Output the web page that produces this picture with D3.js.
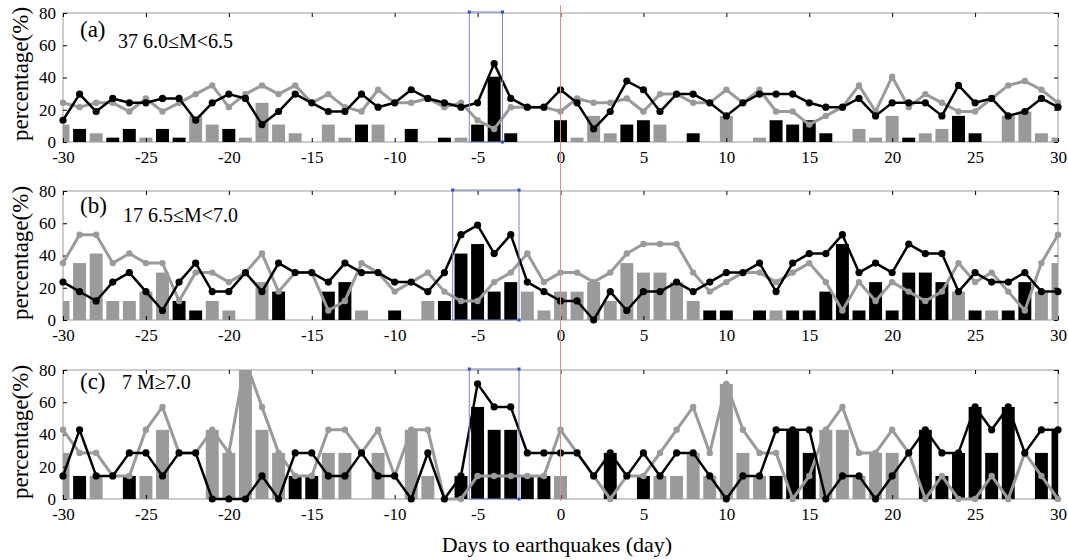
<!DOCTYPE html>
<html>
<head>
<meta charset="utf-8">
<script src="https://cdn.jsdelivr.net/npm/d3@7/dist/d3.min.js"></script>
<style>
body { margin: 0; background: #fff; }
text { font-family: "Liberation Serif", "Times New Roman", serif; fill: #000; }
</style>
</head>
<body>
<script>
// days relative to the earthquake
var days = [-30,-29,-28,-27,-26,-25,-24,-23,-22,-21,-20,-19,-18,-17,-16,-15,-14,-13,-12,-11,-10,
            -9,-8,-7,-6,-5,-4,-3,-2,-1,0,1,2,3,4,5,6,7,8,9,10,
            11,12,13,14,15,16,17,18,19,20,21,22,23,24,25,26,27,28,29,30];
var xTicks = [-30,-25,-20,-15,-10,-5,0,5,10,15,20,25,30];
var yTicks = [0,20,40,60,80];

// (a) 37 events, 6.0<=M<6.5  (percent)
var blackLineA = [13.5,29.7,18.9,27.0,24.3,24.3,27.0,27.0,13.5,24.3,29.7,27.0,10.8,18.9,29.7,24.3,18.9,18.9,29.7,21.6,24.3,
                  32.4,27.0,24.3,21.6,24.3,48.6,27.0,21.6,21.6,32.4,24.3,8.1,18.9,37.8,32.4,18.9,29.7,29.7,24.3,16.2,
                  24.3,29.7,29.7,29.7,24.3,21.6,21.6,27.0,16.2,24.3,24.3,24.3,16.2,35.1,24.3,27.0,16.2,18.9,27.0,21.6];
var grayLineA  = [24.3,21.6,24.3,24.3,18.9,27.0,18.9,24.3,29.7,35.1,21.6,29.7,35.1,29.7,35.1,24.3,29.7,21.6,18.9,32.4,24.3,
                  24.3,27.0,21.6,24.3,13.5,8.1,21.6,21.6,21.6,18.9,27.0,24.3,24.3,27.0,18.9,29.7,29.7,24.3,24.3,32.4,
                  24.3,32.4,18.9,18.9,10.8,16.2,21.6,35.1,18.9,40.5,21.6,29.7,24.3,18.9,18.9,27.0,35.1,37.8,32.4,24.3];
var blackBarsA = [0,8.1,0,2.7,8.1,0,8.1,2.7,0,0,8.1,0,0,0,0,0,0,0,10.8,0,0,
                  8.1,0,2.7,0,10.8,40.5,5.4,0,0,13.5,0,0,0,10.8,13.5,0,0,5.4,0,0,
                  0,0,13.5,10.8,13.5,5.4,0,0,0,0,2.7,0,0,16.2,5.4,0,0,0,0,0];
var grayBarsA  = [10.8,0,5.4,0,0,2.7,0,0,16.2,10.8,0,2.7,24.3,10.8,5.4,0,10.8,2.7,0,10.8,0,
                  0,0,0,2.7,0,0,0,0,0,0,2.7,16.2,5.4,0,0,10.8,0,0,0,16.2,
                  0,2.7,0,0,0,0,0,8.1,2.7,16.2,0,5.4,8.1,0,0,0,16.2,18.9,5.4,2.7];

// (b) 17 events, 6.5<=M<7.0
var blackLineB = [23.5,17.6,11.8,23.5,29.4,17.6,5.9,23.5,35.3,17.6,17.6,29.4,17.6,35.3,29.4,29.4,23.5,35.3,29.4,29.4,23.5,
                  23.5,17.6,29.4,52.9,58.8,41.2,52.9,23.5,17.6,11.8,11.8,0,17.6,5.9,17.6,17.6,23.5,17.6,23.5,29.4,
                  29.4,35.3,17.6,35.3,41.2,41.2,52.9,29.4,35.3,29.4,47.1,41.2,41.2,17.6,29.4,23.5,23.5,29.4,17.6,17.6];
var grayLineB  = [35.3,52.9,52.9,35.3,41.2,35.3,35.3,11.8,29.4,29.4,23.5,29.4,41.2,17.6,29.4,29.4,5.9,11.8,35.3,29.4,17.6,
                  23.5,29.4,17.6,11.8,11.8,23.5,29.4,41.2,23.5,29.4,29.4,23.5,29.4,41.2,47.1,47.1,47.1,29.4,17.6,23.5,
                  29.4,29.4,23.5,29.4,35.3,23.5,5.9,23.5,11.8,23.5,17.6,11.8,17.6,35.3,23.5,29.4,17.6,5.9,35.3,52.9];
var blackBarsB = [0,0,0,0,0,0,0,11.8,5.9,0,0,0,0,17.6,0,0,17.6,23.5,0,0,5.9,
                  0,0,11.8,41.2,47.1,17.6,23.5,0,0,0,0,0,0,0,0,0,0,0,5.9,5.9,
                  0,5.9,0,5.9,5.9,17.6,47.1,5.9,23.5,5.9,29.4,29.4,23.5,0,5.9,0,5.9,23.5,0,0];
var grayBarsB  = [11.8,35.3,41.2,11.8,11.8,17.6,29.4,0,0,11.8,5.9,0,23.5,0,0,0,0,0,5.9,0,0,
                  0,11.8,0,0,0,0,0,17.6,5.9,17.6,17.6,23.5,11.8,35.3,29.4,29.4,23.5,11.8,0,0,
                  0,0,5.9,0,0,0,0,0,0,0,0,0,0,17.6,0,5.9,0,0,17.6,35.3];

// (c) 7 events, M>=7.0
var blackLineC = [14.3,42.9,14.3,14.3,28.6,28.6,14.3,28.6,28.6,0,0,0,14.3,0,28.6,28.6,14.3,14.3,28.6,14.3,14.3,
                  0,28.6,0,14.3,71.4,57.1,57.1,28.6,28.6,28.6,28.6,14.3,28.6,14.3,28.6,14.3,28.6,28.6,14.3,0,
                  14.3,14.3,42.9,42.9,42.9,0,14.3,14.3,0,14.3,28.6,42.9,28.6,28.6,57.1,42.9,57.1,28.6,42.9,42.9];
var grayLineC  = [42.9,28.6,28.6,14.3,14.3,42.9,57.1,28.6,28.6,42.9,28.6,85.7,57.1,28.6,14.3,14.3,42.9,42.9,28.6,42.9,14.3,
                  42.9,42.9,0,0,14.3,14.3,14.3,14.3,14.3,42.9,28.6,14.3,0,14.3,14.3,28.6,42.9,57.1,28.6,71.4,
                  42.9,28.6,28.6,0,14.3,42.9,57.1,28.6,28.6,42.9,28.6,0,14.3,0,0,14.3,0,28.6,14.3,0];
var blackBarsC = [0,14.3,0,0,14.3,0,0,0,0,0,0,0,0,0,14.3,14.3,0,0,0,0,0,
                  0,0,0,14.3,57.1,42.9,42.9,14.3,14.3,0,0,0,28.6,0,14.3,0,0,0,0,0,
                  0,0,14.3,42.9,28.6,0,0,0,0,0,0,42.9,14.3,28.6,57.1,28.6,57.1,0,28.6,42.9];
var grayBarsC  = [28.6,0,14.3,0,0,14.3,42.9,0,0,42.9,28.6,85.7,42.9,28.6,0,0,28.6,28.6,0,28.6,0,
                  42.9,14.3,0,0,0,0,0,0,0,14.3,0,0,0,0,0,14.3,14.3,28.6,14.3,71.4,
                  28.6,14.3,0,0,0,42.9,42.9,14.3,28.6,28.6,0,0,0,0,0,0,0,0,0,0];

var panelTags  = ["(a)", "(b)", "(c)"];
var panelNotes = ["37 6.0\u2264M<6.5", "17 6.5\u2264M<7.0", "7 M\u22657.0"];
var boxes = [[-5.5, -3.5], [-6.5, -2.5], [-5.5, -2.5]];   // highlighted windows (days)

var width = 1068, height = 560;
var svg = d3.select("body").append("svg")
    .attr("width", width)
    .attr("height", height);

var x = d3.scaleLinear().domain([-30, 30]).range([63, 1058]);
var panelTops = [13, 191, 370],
    panelH = 129;
var grayC = "#9a9a9c";
var serif = "'Liberation Serif', 'Times New Roman', serif";

var panels = [
    {black: blackLineA, gray: grayLineA, bb: blackBarsA, gb: grayBarsA, tagY: 37, noteX: 118, noteY: 48, titleY: 74},
    {black: blackLineB, gray: grayLineB, bb: blackBarsB, gb: grayBarsB, tagY: 213, noteX: 123, noteY: 222, titleY: 253},
    {black: blackLineC, gray: grayLineC, bb: blackBarsC, gb: grayBarsC, tagY: 389, noteX: 122, noteY: 389, titleY: 432}
];

var defs = svg.append("defs");

panels.forEach(function(p, i) {
    var top = panelTops[i],
        bottom = top + panelH;
    var y = d3.scaleLinear().domain([0, 80]).range([bottom, top]);

    defs.append("clipPath").attr("id", "bclip" + i)
        .append("rect").attr("x", x(-30)).attr("y", top)
        .attr("width", x(30) - x(-30)).attr("height", panelH);
    defs.append("clipPath").attr("id", "lclip" + i)
        .append("rect").attr("x", x(-30) - 8).attr("y", top)
        .attr("width", x(30) - x(-30) + 16).attr("height", panelH + 8);

    var g = svg.append("g");

    // frame
    g.append("rect")
        .attr("x", x(-30)).attr("y", top)
        .attr("width", x(30) - x(-30)).attr("height", panelH)
        .attr("fill", "none").attr("stroke", "#9a9a9a").attr("stroke-width", 1);

    // bars
    var bars = [];
    days.forEach(function(d, k) {
        if (p.bb[k] > 0) bars.push({d: d, v: p.bb[k], c: "#000"});
        if (p.gb[k] > 0) bars.push({d: d, v: p.gb[k], c: grayC});
    });
    var bw = (x(1) - x(0)) * 0.78;
    g.append("g").attr("clip-path", "url(#bclip" + i + ")")
        .selectAll("rect").data(bars).enter().append("rect")
        .attr("x", function(d) { return x(d.d) - bw / 2; })
        .attr("y", function(d) { return y(d.v); })
        .attr("width", bw)
        .attr("height", function(d) { return y(0) - y(d.v); })
        .attr("fill", function(d) { return d.c; });

    // axes (ticks inside, labels on left and bottom)
    var plain = function(d) { return String(d); };
    var xAxis = d3.axisBottom(x).tickValues(xTicks).tickSize(-4).tickPadding(9).tickFormat(plain);
    var yAxis = d3.axisLeft(y).tickValues(yTicks).tickSize(-4).tickPadding(7).tickFormat(plain);
    var ax = g.append("g").attr("transform", "translate(0," + bottom + ")").call(xAxis);
    var ay = g.append("g").attr("transform", "translate(" + x(-30) + ",0)").call(yAxis);
    var at = g.append("g").attr("transform", "translate(0," + top + ")")
        .call(d3.axisTop(x).tickValues(xTicks).tickSize(-4).tickFormat(""));
    var ar = g.append("g").attr("transform", "translate(" + x(30) + ",0)")
        .call(d3.axisRight(y).tickValues(yTicks).tickSize(-4).tickFormat(""));
    [ax, ay, at, ar].forEach(function(a) {
        a.attr("font-family", serif).attr("font-size", 17);
        a.select(".domain").remove();
        a.selectAll(".tick line").attr("stroke", "#000");
        a.selectAll("text")
            .style("font-family", serif)
            .style("font-size", "17px")
            .attr("fill", "#000");
    });

    // lines
    var line = d3.line()
        .x(function(d) { return x(d.d); })
        .y(function(d) { return y(d.v); });
    var lg = g.append("g").attr("clip-path", "url(#lclip" + i + ")");
    [{vals: p.gray, c: grayC, w: 3, r: 3.2}, {vals: p.black, c: "#000", w: 2.5, r: 3.6}].forEach(function(s) {
        var pts = days.map(function(d, k) { return {d: d, v: s.vals[k]}; });
        lg.append("path").datum(pts)
            .attr("d", line)
            .attr("fill", "none")
            .attr("stroke", s.c)
            .attr("stroke-width", s.w)
            .attr("stroke-linejoin", "round");
        lg.selectAll(null).data(pts).enter().append("circle")
            .attr("cx", function(d) { return x(d.d); })
            .attr("cy", function(d) { return y(d.v); })
            .attr("r", s.r)
            .attr("fill", s.c);
    });

    // highlighted window
    var bx0 = x(boxes[i][0]), bx1 = x(boxes[i][1]);
    g.append("rect")
        .attr("x", bx0).attr("y", top - 1)
        .attr("width", bx1 - bx0).attr("height", panelH + 1)
        .attr("fill", "none").attr("stroke", "#7686d0").attr("stroke-width", 1);
    [[bx0, top - 1], [bx1, top - 1], [bx1, bottom]].forEach(function(c) {
        g.append("rect").attr("x", c[0] - 1.5).attr("y", c[1] - 1.5)
            .attr("width", 3).attr("height", 3).attr("fill", "#3050c0");
    });

    // labels
    g.append("text").attr("x", 80).attr("y", p.tagY)
        .style("font-size", "23px").text(panelTags[i]);
    g.append("text").attr("x", p.noteX).attr("y", p.noteY)
        .style("font-size", "20px").text(panelNotes[i]);
    g.append("text")
        .attr("transform", "translate(28," + p.titleY + ") rotate(-90)")
        .attr("text-anchor", "middle")
        .style("font-size", "23px")
        .text("percentage(%)");
});

// day 0 marker
svg.append("line")
    .attr("x1", x(0)).attr("x2", x(0))
    .attr("y1", 5).attr("y2", 501)
    .attr("stroke", "#ee8888").attr("stroke-width", 1);

svg.append("text")
    .attr("x", 557).attr("y", 552)
    .attr("text-anchor", "middle")
    .style("font-size", "22px")
    .text("Days to earthquakes (day)");
</script>
</body>
</html>
